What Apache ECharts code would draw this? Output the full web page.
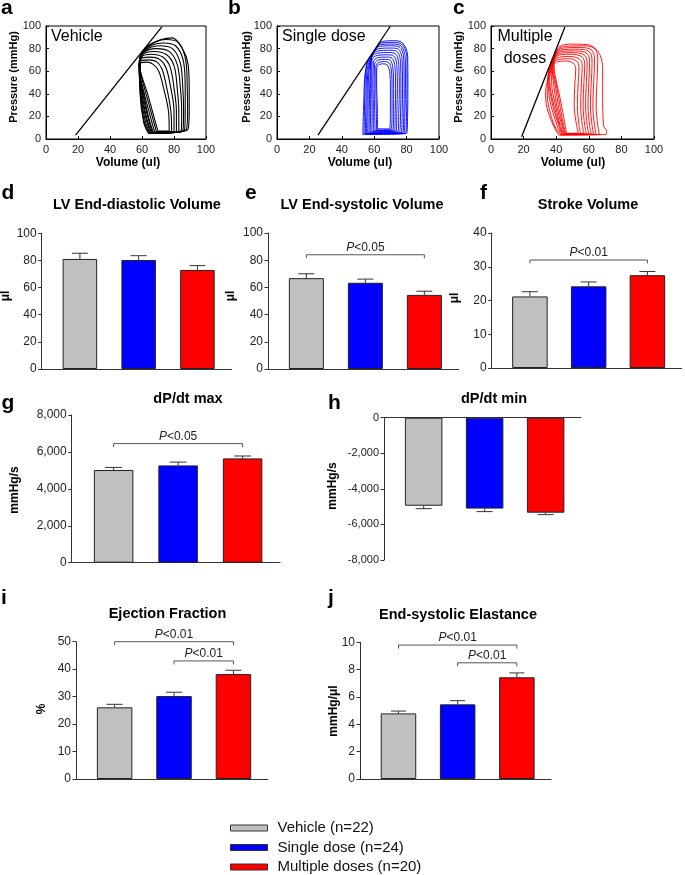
<!DOCTYPE html>
<html><head><meta charset="utf-8">
<script src="https://cdn.jsdelivr.net/npm/echarts@6/dist/echarts.min.js"></script>
<style>html,body{margin:0;padding:0;background:#fff}#c{width:685px;height:875px}</style>
</head><body><div id="c"></div>
<script>
// ---------------- DATA ----------------
const groupNames = ['Vehicle (n=22)', 'Single dose (n=24)', 'Multiple doses (n=20)'];
const pvTicks = [0, 20, 40, 60, 80, 100];

// Pressure-volume loops, flat [volume, pressure, ...] lists, innermost to outermost
const vehicleLoops = [
 [70,7, 77,7, 76.5,25, 73.5,45, 70.5,60, 67,66, 63,68, 58,66, 60,55, 63.5,40, 67,22, 70,7],
 [69,6.5, 78.5,7, 78,25, 75.5,45, 72.5,62, 69,68.5, 64,70, 58.5,68, 59.5,56, 62.5,40, 66,22, 69,6.5],
 [68,6, 80,7, 80,25, 78,45, 75,63, 71,70.5, 65,72.5, 59,70, 59,57, 61.5,40, 65,21, 68,6],
 [67,6, 81.5,7, 81.5,25, 80,45, 77.5,64, 73,72.5, 66,75, 59.5,72, 58.8,58, 61,40, 64,20, 67,6],
 [66.5,5.5, 83,7, 83,25, 82,45, 80,65, 75,75, 67.5,77.5, 60,74, 58.5,60, 60.5,40, 63.5,20, 66.5,5.5],
 [66,5.5, 84.5,7.5, 84.8,25, 84,45, 82,66, 77,77.5, 69,80, 60.5,75.5, 58.3,62, 60,40, 63,18, 66,5.5],
 [65.5,5, 85.5,7.5, 86,25, 85.5,45, 84,67, 79,80, 71,82.5, 61,77, 58.2,64, 59.5,40, 62.5,18, 65.5,5],
 [65,5, 86.5,8, 87,25, 87,45, 86,68, 81,82.5, 73,85, 61.5,78.5, 58.2,66, 59.2,40, 62,16, 65,5],
 [64.5,5, 87.5,8, 88.5,25, 88.3,45, 87.5,68, 83,85, 75,88, 62,80, 58.3,68, 59,40, 61.5,15, 64.5,5],
 [64,5, 88.5,8, 89.5,25, 89.5,45, 88.8,66, 86,78, 79,89.5, 72,88, 62.5,81, 58.5,70, 58.8,40, 61,15, 64,5]
];
const singleDoseLoops = [
 [62,9, 69.5,9, 70,25, 70,45, 69.5,60, 68,65.5, 66,66.5, 63,66, 61.5,62, 61.5,45, 62,25, 62,9],
 [61.5,8, 70.5,8.5, 71,25, 71,45, 70.5,62, 69,67.5, 66.5,68.5, 63,68, 61,64, 61,45, 61.3,25, 61.5,8],
 [60.5,7.5, 71.5,8, 72,25, 72,45, 71.5,63, 70,69.5, 67,70.5, 62.5,70, 60.2,66, 60,45, 60.3,25, 60.5,7.5],
 [59.5,7, 72.5,7.5, 73,25, 73.2,45, 72.8,64, 71,71.5, 67.5,72.5, 62,72, 59.5,68, 59.2,45, 59.5,25, 59.5,7],
 [58.5,6.5, 73.5,7, 74,25, 74.3,45, 74,65, 72,73.5, 68,74.5, 62,74, 58.6,70, 58.5,45, 58.7,25, 58.5,6.5],
 [57.5,6, 74.5,6.5, 75.2,25, 75.5,45, 75.2,66, 73,75.5, 68.5,76.5, 62,76, 58.3,72, 57.8,45, 57.8,25, 57.5,6],
 [56.8,5.5, 75.5,6, 76.3,25, 76.5,45, 76.3,67, 74,77.5, 69,78.5, 62.5,78, 58.5,74, 57.2,45, 57,25, 56.8,5.5],
 [56,5, 76.5,5.5, 77.3,25, 77.5,45, 77.3,68, 75,79.5, 69.5,80.5, 63,80, 59.2,76, 56.5,55, 56.2,25, 56,5],
 [55.2,5, 77.5,5.5, 78.3,25, 78.5,45, 78.3,69, 76,81, 70,82.5, 63.5,82, 60.1,78, 56,58, 55.5,25, 55.2,5],
 [54.5,4.5, 78.3,5, 79,25, 79.3,45, 79.2,70, 76.5,82.5, 70.5,84, 64,83.5, 61,80, 55.5,60, 54.8,25, 54.5,4.5],
 [53.8,4.5, 79.3,5, 80,25, 80.2,45, 80.2,71, 77,84, 71,85.5, 64.5,85, 61.7,81.5, 55,62, 54,25, 53.8,4.5],
 [53,4, 80,5, 80.6,20, 80.8,45, 80.7,73, 77.5,85, 72,87, 65.5,86.5, 62.4,83, 55,64, 53.5,30, 53,4]
];
const multipleDoseLoops = [
 [46.5,5, 53.5,5.5, 52.5,12, 51,30, 51.5,50, 52,62, 50.5,67, 46,69, 41,68.5, 38.5,66, 39.5,55, 41.5,42, 43.5,28, 45.5,12, 46.5,5],
 [46,4.8, 55,5, 54,12, 53,30, 53.5,50, 54,63, 52.5,69, 47,71, 41.5,70.5, 38.8,68, 38.5,60, 40.5,45, 42.5,28, 44.5,12, 46,4.8],
 [45.5,4.5, 57,5, 56,12, 55,30, 55.5,50, 56,64, 54.5,70.5, 48,73, 42,72.5, 39.2,70, 37.8,62, 39.5,47, 41.5,28, 44,12, 45.5,4.5],
 [45,4.3, 58.5,4.8, 57.5,12, 56.5,30, 57,50, 57.5,65, 56,72.5, 49,75, 42.5,74.5, 39.6,72, 37.5,64, 38.5,48, 40.5,28, 43.5,12, 45,4.3],
 [44.5,4.2, 60,4.6, 59,12, 58,30, 58.5,50, 59,66, 57.5,74, 50,76.5, 43,76, 40,73.5, 37.2,64, 37.2,50, 39.5,30, 42.5,12, 44.5,4.2],
 [44,4, 61.5,4.5, 60.5,12, 59.5,30, 60,50, 60.5,67, 59,75.5, 51,78, 43.5,77.5, 40.3,75, 37.5,66, 36,52, 38.5,30, 42,12, 44,4],
 [43.5,4, 63,4.5, 62,12, 61,30, 61.5,50, 62,67, 60.5,77, 52,79.5, 44,79, 40.6,76.5, 38,69, 35.5,54, 37.5,32, 41.5,12, 43.5,4],
 [43,3.8, 64.5,4.3, 63.5,12, 62.5,30, 63,50, 63.5,68, 62,78.5, 53,81, 44.5,80.5, 40.9,78, 38.3,71, 35,55, 36,35, 40.5,12, 43,3.8],
 [42.5,3.6, 66.5,4.2, 65.5,12, 64.5,30, 65,50, 65.5,68, 64,79.5, 56,82.5, 45,82, 41.2,79.5, 38.5,72, 35,56, 34.5,40, 38,15, 42.5,3.6],
 [41.5,3.5, 70.5,4, 71,6.5, 69,12, 68.5,40, 68.5,63, 67,74, 64,80, 59,83.5, 50,84, 45,83.5, 41.5,81, 39,72.5, 37,62, 35,53, 33.5,42, 34,30, 36.5,18, 40,7, 41.5,3.5]
];
// End-systolic pressure-volume relation lines [volume, pressure]
const vehicleEspvr = [[18.5, 3.5], [72.5, 99.5]];
const singleDoseEspvr = [[25.3, 3.5], [70, 100]];
const multipleDoseEspvr = [[18.8, 2], [45.4, 99.4]];

// Bar panels: means and SEM (Vehicle, Single dose, Multiple doses)
const edvMean = [81.1, 80.3, 73.0];
const edvErr = [4.2, 3.2, 3.2];
const esvMean = [66.8, 63.4, 54.5];
const esvErr = [3.2, 2.7, 2.7];
const svMean = [21.2, 24.2, 27.5];
const svErr = [1.4, 1.3, 1.1];
const dpdtMaxMean = [5020, 5270, 5650];
const dpdtMaxErr = [140, 180, 130];
const dpdtMinMean = [-4950, -5110, -5340];
const dpdtMinErr = [165, 170, 110];
const efMean = [26.1, 30.2, 38.2];
const efErr = [1.1, 1.4, 1.4];
const eesMean = [4.80, 5.46, 7.44];
const eesErr = [0.17, 0.27, 0.32];

// significance brackets: [from group, to group, level, label]
const esvSig = [[0, 2, 84, 'P<0.05']];
const svSig = [[0, 2, 32, 'P<0.01']];
const dpdtMaxSig = [[0, 2, 6450, 'P<0.05']];
const efSig = [[0, 2, 50, 'P<0.01'], [1, 2, 43, 'P<0.01']];
const eesSig = [[0, 2, 9.8, 'P<0.01'], [1, 2, 8.5, 'P<0.01']];

// ---------------- STYLE / LAYOUT ----------------
const FF = '"Liberation Sans", Arial, Helvetica, sans-serif';
const barColors = ['#c0c0c0', '#0000ff', '#ff0000'];

const pvPanels = [
  {loops: vehicleLoops, espvr: vehicleEspvr, color: '#000000', width: 1.1, grid: {left: 46, top: 26, width: 160, height: 113}},
  {loops: singleDoseLoops, espvr: singleDoseEspvr, color: '#0000ff', width: 0.9, grid: {left: 277, top: 26, width: 162, height: 113}},
  {loops: multipleDoseLoops, espvr: multipleDoseEspvr, color: '#ff0000', width: 0.9, grid: {left: 491, top: 26, width: 163, height: 113}}
];

const barPanels = [
  {mean: edvMean, err: edvErr, sig: [], min: 0, max: 100, interval: 20, grid: {left: 41.7, top: 233.3, width: 189.8, height: 135.7}, barW: 34.5, cap: 8, fs: 12},
  {mean: esvMean, err: esvErr, sig: esvSig, min: 0, max: 100, interval: 20, grid: {left: 268, top: 233, width: 190.6, height: 136}, barW: 35, cap: 8, fs: 12},
  {mean: svMean, err: svErr, sig: svSig, min: 0, max: 40, interval: 10, grid: {left: 491.7, top: 233, width: 189.8, height: 135}, barW: 35.5, cap: 8, fs: 12},
  {mean: dpdtMaxMean, err: dpdtMaxErr, sig: dpdtMaxSig, min: 0, max: 8000, interval: 2000, grid: {left: 71.7, top: 415, width: 208.3, height: 147.7}, barW: 39.5, cap: 8.5, fs: 12},
  {mean: dpdtMinMean, err: dpdtMinErr, sig: [], min: -8000, max: 0, interval: 2000, grid: {left: 384, top: 417.7, width: 197, height: 142.3}, barW: 37.5, cap: 8, fs: 11},
  {mean: efMean, err: efErr, sig: efSig, min: 0, max: 50, interval: 10, grid: {left: 76, top: 641.7, width: 191.9, height: 137.3}, barW: 35.5, cap: 8, fs: 12},
  {mean: eesMean, err: eesErr, sig: eesSig, min: 0, max: 10, interval: 2, grid: {left: 360, top: 642.3, width: 191.2, height: 136.7}, barW: 35.5, cap: 7.5, fs: 12}
];

// ---------------- BUILD ----------------
function pairs(flat) { const out = []; for (let i = 0; i < flat.length; i += 2) out.push([flat[i], flat[i + 1]]); return out; }
function txt(text, x, y, font, opts) {
  opts = opts || {};
  return {type: 'text', x: x, y: y, rotation: opts.rot || 0, silent: true, z: 50,
    style: {text: text, font: font, fill: opts.fill || '#000', align: opts.align || 'center', textAlign: opts.align || 'center',
      verticalAlign: 'middle', textVerticalAlign: 'middle', lineHeight: opts.lh, rich: opts.rich}};
}

const option = {animation: false, backgroundColor: '#fff', grid: [], xAxis: [], yAxis: [], series: [], graphic: [],
  legend: {orient: 'vertical', left: 230, top: 820.5, padding: 0, itemWidth: 37, itemHeight: 6, itemGap: 4.5, icon: 'rect',
    data: groupNames, selectedMode: false,
    textStyle: {fontSize: 15, lineHeight: 15, color: '#111', fontFamily: FF, padding: [0, 0, 0, 5]},
    itemStyle: {borderColor: '#333', borderWidth: 1}}
};

pvPanels.forEach(p => {
  const gi = option.grid.length;
  option.grid.push(Object.assign({show: true, borderColor: '#000', borderWidth: 1, backgroundColor: 'transparent'}, p.grid));
  const ax = {type: 'value', gridIndex: gi, min: pvTicks[0], max: pvTicks[pvTicks.length - 1], interval: pvTicks[1] - pvTicks[0],
    axisLine: {onZero: false, lineStyle: {color: '#000', width: 1}}, axisTick: {inside: true, length: 3, lineStyle: {color: '#000'}},
    axisLabel: {fontSize: 11, color: '#222', margin: 5, fontFamily: FF}, splitLine: {show: false}};
  option.xAxis.push(Object.assign({}, ax));
  option.yAxis.push(Object.assign({}, ax));
  p.loops.forEach(l => option.series.push({type: 'line', xAxisIndex: gi, yAxisIndex: gi, data: pairs(l), smooth: 0.35,
    symbol: 'none', lineStyle: {color: p.color, width: p.width}, silent: true, z: 2}));
  option.series.push({type: 'line', xAxisIndex: gi, yAxisIndex: gi, data: p.espvr, symbol: 'none',
    lineStyle: {color: '#000', width: 1.3}, silent: true, z: 3});
});

barPanels.forEach(p => {
  const gi = option.grid.length;
  option.grid.push(Object.assign({}, p.grid));
  option.xAxis.push({type: 'value', gridIndex: gi, min: -0.65, max: 2.58,
    axisLine: {onZero: true, lineStyle: {color: '#333', width: 1}}, axisTick: {show: false}, axisLabel: {show: false}, splitLine: {show: false}});
  option.yAxis.push({type: 'value', gridIndex: gi, min: p.min, max: p.max, interval: p.interval,
    axisLine: {show: true, onZero: false, lineStyle: {color: '#333', width: 1}}, axisTick: {show: true, length: 3.5, lineStyle: {color: '#333'}},
    axisLabel: {fontSize: p.fs, color: '#222', margin: 5, fontFamily: FF, formatter: v => Number(v).toLocaleString('en-US')},
    splitLine: {show: false}});
  for (let k = 0; k < 3; k++) {
    option.series.push({type: 'bar', name: groupNames[k], xAxisIndex: gi, yAxisIndex: gi, data: [[k, p.mean[k]]],
      barWidth: p.barW, barGap: '-100%', itemStyle: {color: barColors[k], borderColor: '#222', borderWidth: 1}, silent: true, z: 2});
  }
  const cap = p.cap;
  option.series.push({type: 'custom', xAxisIndex: gi, yAxisIndex: gi, silent: true, z: 3,
    encode: {x: 0, y: 1},
    data: p.mean.map((m, k) => [k, m, p.err[k]]),
    renderItem: function (params, api) {
      const x = api.value(0), m = api.value(1), e = api.value(2);
      const s = m < 0 ? -1 : 1;
      const a = api.coord([x, m]), b = api.coord([x, m + s * e]);
      const st = {stroke: '#333', lineWidth: 1};
      return {type: 'group', children: [
        {type: 'line', shape: {x1: a[0], y1: a[1], x2: b[0], y2: b[1]}, style: st},
        {type: 'line', shape: {x1: b[0] - cap, y1: b[1], x2: b[0] + cap, y2: b[1]}, style: st}
      ]};
    }});
  if (p.sig.length) {
    const labels = p.sig.map(s => s[3]);
    option.series.push({type: 'custom', xAxisIndex: gi, yAxisIndex: gi, silent: true, z: 4,
      encode: {x: [0, 1], y: 2},
      data: p.sig.map(s => [s[0], s[1], s[2]]),
      renderItem: function (params, api) {
        const a = api.coord([api.value(0), api.value(2)]), b = api.coord([api.value(1), api.value(2)]);
        const lab = labels[params.dataIndex].replace('P', '{i|P}');
        return {type: 'group', children: [
          {type: 'polyline', shape: {points: [[a[0], a[1] + 3.5], [a[0], a[1]], [b[0], b[1]], [b[0], b[1] + 3.5]]},
            style: {stroke: '#555', lineWidth: 1, fill: null}},
          {type: 'text', x: (a[0] + b[0]) / 2, y: a[1] - 7,
            style: {text: lab, font: '12px ' + FF, fill: '#222', align: 'center', textAlign: 'center',
              verticalAlign: 'middle', textVerticalAlign: 'middle',
              rich: {i: {fontStyle: 'italic', fontSize: 12, fontFamily: FF, fill: '#222'}}}}
        ]};
      }});
  }
});

// ---------------- TEXTS ----------------
const G = option.graphic;
const letterFont = 'bold 21px ' + FF;
[['a', 1, 8.5], ['b', 228, 8.5], ['c', 453, 8.5], ['d', 1.5, 193], ['e', 245, 193], ['f', 480, 193],
 ['g', 1.5, 403], ['h', 328, 403], ['i', 1, 598.5], ['j', 328, 598.5]].forEach(l => G.push(txt(l[0], l[1], l[2], letterFont, {align: 'left'})));

const titleFont = 'bold 14.5px ' + FF;
[['LV End-diastolic Volume', 137, 205], ['LV End-systolic Volume', 362, 205], ['Stroke Volume', 588, 205],
 ['dP/dt max', 188, 399], ['dP/dt min', 494, 398.5], ['Ejection Fraction', 167.5, 613.5], ['End-systolic Elastance', 458, 615]]
 .forEach(t => G.push(txt(t[0], t[1], t[2], titleFont)));

const nameFont = 'bold 12px ' + FF;
[['μl', 6, 296], ['μl', 231, 296], ['μl', 455, 298], ['mmHg/s', 15, 490], ['mmHg/s', 332.5, 486],
 ['%', 42, 709], ['mmHg/μl', 334, 711]].forEach(t => G.push(txt(t[0], t[1], t[2], nameFont, {rot: Math.PI / 2})));

const pvNameFont = 'bold 11px ' + FF;
[[13.5, 77], [246.5, 77], [458.5, 77]].forEach(t => G.push(txt('Pressure (mmHg)', t[0], t[1], pvNameFont, {rot: Math.PI / 2})));
[[128, 163], [360, 163], [573, 163]].forEach(t => G.push(txt('Volume (ul)', t[0], t[1], 'bold 12px ' + FF)));

const insetFont = '16px ' + FF;
G.push(txt('Vehicle', 51, 37, insetFont, {align: 'left'}));
G.push(txt('Single dose', 282, 37, insetFont, {align: 'left'}));
G.push(txt('Multiple\ndoses', 525, 48, insetFont, {lh: 22}));

const chart = echarts.init(document.getElementById('c'), null, {renderer: 'canvas'});
chart.setOption(option);
</script>
</body></html>
